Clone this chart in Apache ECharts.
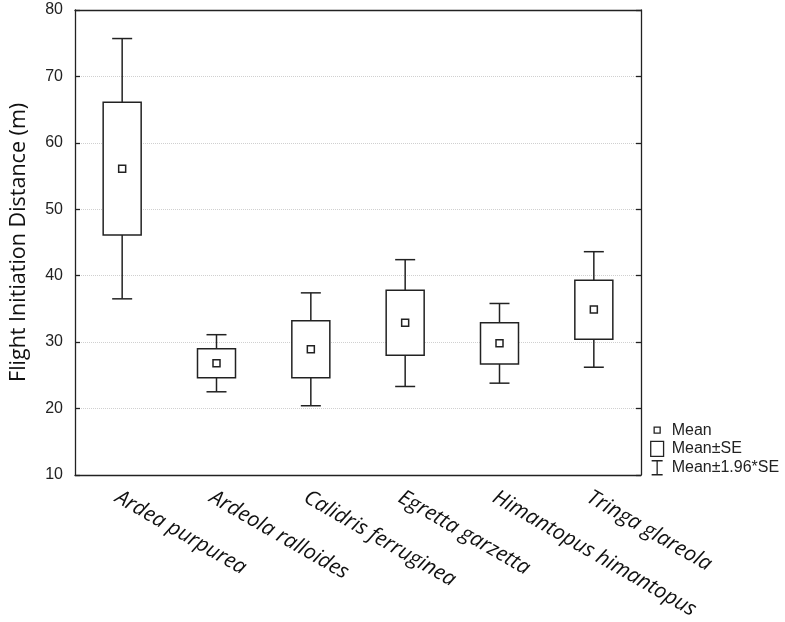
<!DOCTYPE html>
<html>
<head>
<meta charset="utf-8">
<script src="https://cdn.jsdelivr.net/npm/echarts@6/dist/echarts.min.js"></script>
<style>html,body{margin:0;padding:0;background:#fff}#c{width:785px;height:622px}</style>
</head>
<body>
<div id="c"></div>
<script>
const categories = ['Ardea purpurea','Ardeola ralloides','Calidris ferruginea','Egretta garzetta','Himantopus himantopus','Tringa glareola'];
const means  = [56.1, 26.8, 28.9, 32.9, 29.8, 34.9];
const seLow  = [46.1, 24.6, 24.6, 28.0, 26.7, 30.4];
const seHigh = [66.1, 29.0, 33.2, 37.8, 32.9, 39.3];
const ciLow  = [36.5, 22.5, 20.4, 23.3, 23.8, 26.2];
const ciHigh = [75.7, 31.1, 37.4, 42.4, 35.8, 43.6];
const yTicks = [10, 20, 30, 40, 50, 60, 70, 80];

const rows = categories.map((c, i) => [i, means[i], seLow[i], seHigh[i], ciLow[i], ciHigh[i]]);
const LINE = '#222';

const chart = echarts.init(document.getElementById('c'), null, {renderer: 'canvas'});
chart.setOption({
  animation: false,
  backgroundColor: '#fff',
  grid: {left: 73, right: 144, top: 10, bottom: 145},
  legend: {
    orient: 'vertical', left: 645, top: 417,
    itemWidth: 13, itemHeight: 15, itemGap: 2.5,
    textStyle: {fontFamily: 'Arial, Liberation Sans', fontSize: 16, color: '#222', padding: [0,0,0,3]},
    selectedMode: false,
    data: [
      {name: 'Mean', icon: 'path://M0 0M13 15M3.5 4.5h6v6h-6z', itemStyle: {color: '#fff', borderColor: LINE, borderWidth: 1.3}},
      {name: 'Mean±SE', icon: 'path://M0.5 0.5h12v14h-12z', itemStyle: {color: '#fff', borderColor: LINE, borderWidth: 1.3}},
      {name: 'Mean±1.96*SE', icon: 'path://M0 0M13 15M6.5 0.5V14.5M1 0.5H12M1 14.5H12', itemStyle: {color: '#fff', borderColor: LINE, borderWidth: 1.3}}
    ]
  },
  xAxis: [{
    type: 'category', data: categories, boundaryGap: true,
    axisLine: {lineStyle: {color: LINE, width: 1.3}},
    axisTick: {inside: true, alignWithLabel: true, length: 6, lineStyle: {color: LINE, width: 1.3}},
    axisLabel: {
      rotate: -30, margin: 12, interval: 0,
      fontFamily: 'Open Sans', fontStyle: 'italic', fontSize: 21, color: '#111',
      verticalAlign: 'top'
    },
    splitLine: {show: false}
  }, {
    type: 'category', data: categories, position: 'top',
    axisLine: {show: true, lineStyle: {color: LINE, width: 1.3}},
    axisTick: {show: false}, axisLabel: {show: false}
  }],
  yAxis: [{
    type: 'value', min: 10, max: 80, interval: 10,
    name: 'Flight Initiation Distance (m)', nameLocation: 'middle', nameGap: 45, nameRotate: 90,
    nameTextStyle: {fontFamily: 'Open Sans', fontSize: 21.5, color: '#111'},
    axisLine: {show: true, lineStyle: {color: LINE, width: 1.3}},
    axisTick: {show: true, inside: true, length: 5, lineStyle: {color: LINE, width: 1.3}},
    axisLabel: {fontFamily: 'Arial, Liberation Sans', fontSize: 16, color: '#222', margin: 12,
      formatter: v => yTicks.includes(v) ? String(v) : ''},
    splitLine: {show: true, lineStyle: {color: '#d0d0d0', type: 'dotted', width: 1}}
  }, {
    type: 'value', min: 10, max: 80, interval: 10, position: 'right',
    axisLine: {show: true, lineStyle: {color: LINE, width: 1.3}},
    axisTick: {show: true, inside: true, length: 5, lineStyle: {color: LINE, width: 1.3}},
    axisLabel: {show: false}, splitLine: {show: false}
  }],
  series: [
    {
      name: 'Mean±1.96*SE', type: 'custom', data: rows,
      itemStyle: {color: '#fff', borderColor: LINE},
      encode: {x: 0, y: [4, 5]},
      renderItem: (params, api) => {
        const lo = api.coord([api.value(0), api.value(4)]);
        const hi = api.coord([api.value(0), api.value(5)]);
        const hw = 10;
        const st = {stroke: LINE, lineWidth: 1.5};
        return {type: 'group', children: [
          {type: 'line', shape: {x1: lo[0], y1: lo[1], x2: hi[0], y2: hi[1]}, style: st},
          {type: 'line', shape: {x1: lo[0]-hw, y1: lo[1], x2: lo[0]+hw, y2: lo[1]}, style: st},
          {type: 'line', shape: {x1: hi[0]-hw, y1: hi[1], x2: hi[0]+hw, y2: hi[1]}, style: st}
        ]};
      }
    },
    {
      name: 'Mean±SE', type: 'custom', data: rows,
      itemStyle: {color: '#fff', borderColor: LINE},
      encode: {x: 0, y: [2, 3]},
      renderItem: (params, api) => {
        const lo = api.coord([api.value(0), api.value(2)]);
        const hi = api.coord([api.value(0), api.value(3)]);
        const hw = 19;
        return {type: 'rect', shape: {x: lo[0]-hw, y: hi[1], width: 2*hw, height: lo[1]-hi[1]},
          style: {fill: '#fff', stroke: LINE, lineWidth: 1.5}};
      }
    },
    {
      name: 'Mean', type: 'custom', data: rows,
      itemStyle: {color: '#fff', borderColor: LINE},
      encode: {x: 0, y: 1},
      renderItem: (params, api) => {
        const p = api.coord([api.value(0), api.value(1)]);
        const h = 3.5;
        return {type: 'rect', shape: {x: p[0]-h, y: p[1]-h, width: 2*h, height: 2*h},
          style: {fill: '#fff', stroke: LINE, lineWidth: 1.5}};
      }
    }
  ]
});
</script>
</body>
</html>
